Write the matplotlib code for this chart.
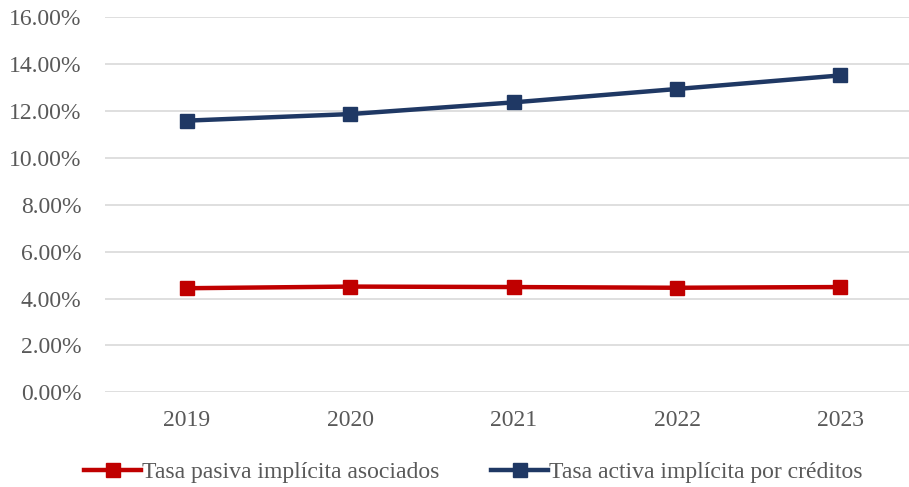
import matplotlib.pyplot as plt
from matplotlib.ticker import FuncFormatter

years = ['2019', '2020', '2021', '2022', '2023']
tasa_pasiva = [4.44, 4.51, 4.49, 4.46, 4.49]
tasa_activa = [11.59, 11.87, 12.37, 12.94, 13.52]

plt.rcParams['font.family'] = ['Liberation Serif', 'DejaVu Serif']

fig = plt.figure(figsize=(9.09, 4.87), dpi=100)
ax = fig.add_axes([0.1155, 0.1945, 0.899, 0.77])

x = range(len(years))
ax.plot(x, tasa_pasiva, color='#c00000', lw=3.2, marker='s', ms=10.5,
        label='Tasa pasiva implícita asociados', zorder=3)
ax.plot(x, tasa_activa, color='#1f3864', lw=3.2, marker='s', ms=10.5,
        label='Tasa activa implícita por créditos', zorder=3)

ax.set_xlim(-0.5, len(years) - 0.5)
ax.set_ylim(0, 16)
ax.set_yticks(range(0, 17, 2))
ax.yaxis.set_major_formatter(FuncFormatter(lambda v, p: f'{v:.2f}%'))
ax.set_xticks(list(x))
ax.set_xticklabels(years)

ax.grid(axis='y', color='#d9d9d9', lw=1.2)
ax.set_axisbelow(True)
for s in ax.spines.values():
    s.set_visible(False)
ax.tick_params(length=0, labelsize=17, labelcolor='#595959')
ax.tick_params(axis='x', pad=13)
ax.tick_params(axis='y', pad=17)

leg = fig.legend(loc='lower center', bbox_to_anchor=(0.521, -0.035), ncol=2,
                 frameon=False, fontsize=17, handlelength=2.4,
                 handletextpad=0.05, columnspacing=2.2)
for t in leg.get_texts():
    t.set_color('#595959')

fig.savefig('out.png', dpi=100)
